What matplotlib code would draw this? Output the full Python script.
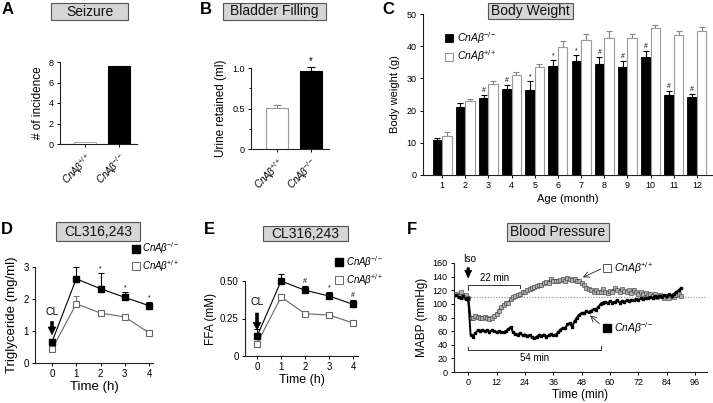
import matplotlib
matplotlib.use('Agg')
import matplotlib.pyplot as plt
from matplotlib.patches import Rectangle
from matplotlib.lines import Line2D
import numpy as np

plt.rcParams.update({
    'font.family': ['Liberation Sans', 'DejaVu Sans'],
    'mathtext.fontset': 'custom',
    'mathtext.rm': 'Liberation Sans',
    'mathtext.it': 'Liberation Sans:italic',
    'mathtext.bf': 'Liberation Sans:bold',
    'mathtext.default': 'it',
    'axes.linewidth': 0.8,
    'axes.edgecolor': '#222222',
    'xtick.major.width': 0.7, 'ytick.major.width': 0.7,
    'xtick.minor.width': 0.6, 'ytick.minor.width': 0.6,
    'xtick.major.size': 2.5, 'ytick.major.size': 2.5,
    'ytick.minor.size': 1.8,
    'xtick.major.pad': 2, 'ytick.major.pad': 2,
    'xtick.labelsize': 6.5, 'ytick.labelsize': 6.5,
})

KO = 'CnAβ$^{-/-}$'
WT = 'CnAβ$^{+/+}$'

# ---------------- data ----------------
seizure_groups = [WT, KO]
seizure_counts = [0.15, 7.6]

bladder_groups = [WT, KO]
bladder_urine = [0.51, 0.96]
bladder_err = [0.035, 0.05]
bladder_marks = ['', '*']

months = [1, 2, 3, 4, 5, 6, 7, 8, 9, 10, 11, 12]
bw_ko = [10.9, 21.1, 23.8, 26.7, 26.5, 33.8, 35.4, 34.6, 33.4, 36.6, 24.7, 24.3]
bw_ko_err = [0.5, 1.2, 1.0, 1.3, 2.6, 1.9, 1.8, 2.0, 2.0, 2.0, 1.4, 0.8]
bw_wt = [12.1, 23.0, 28.2, 31.2, 33.5, 39.6, 41.8, 42.7, 42.5, 45.6, 43.6, 44.6]
bw_wt_err = [1.1, 0.7, 1.0, 0.8, 0.9, 2.0, 2.1, 2.0, 1.3, 1.0, 1.2, 1.3]
bw_marks = ['', '', '#', '#', '*', '*', '*', '#', '#', '#', '#', '#']

time_h = [0, 1, 2, 3, 4]
tg_ko = [0.66, 2.63, 2.32, 2.05, 1.79]
tg_ko_err = [0.10, 0.37, 0.49, 0.16, 0.12]
tg_wt = [0.43, 1.85, 1.56, 1.44, 0.94]
tg_wt_err = [0.15, 0.25, 0.05, 0.07, 0.08]
tg_marks = ['', '', '*', '*', '*']

ffa_ko = [0.131, 0.50, 0.438, 0.40, 0.344]
ffa_ko_err = [0.05, 0.045, 0.03, 0.027, 0.03]
ffa_wt = [0.082, 0.393, 0.282, 0.273, 0.22]
ffa_wt_err = [0.012, 0.02, 0.012, 0.012, 0.012]
ffa_marks = ['', '', '#', '*', '#']

time_min = list(range(-5, 91))
mabp_wt = [115, 112, 117, 110, 113, 108,
           79, 80, 82, 81, 80, 79, 81, 79, 78, 79,
           82, 85, 90, 95, 98, 102, 101, 107, 110, 112,
           113, 114, 117, 118, 120, 122, 124, 125, 126, 128,
           127, 130, 132, 131, 136, 133, 134, 133, 135, 137,
           134, 138, 136, 135, 137, 133, 134, 131, 127, 124,
           122, 121, 118, 120, 117, 118, 122, 118, 116, 119,
           117, 123, 120, 118, 122, 119, 117, 120, 116, 121,
           118, 115, 117, 114, 116, 113, 115, 112, 114, 110,
           113, 111, 109, 112, 108, 111, 110, 113, 115, 112]
mabp_ko = [113, 110, 108, 111, 107, 109,
           55, 52, 57, 61, 60, 62, 60, 61, 59, 61,
           60, 58, 60, 59, 58, 60, 63, 66, 58, 56,
           55, 57, 54, 55, 53, 54, 51, 50, 52, 54,
           53, 55, 52, 54, 56, 54, 55, 58, 62, 65,
           64, 70, 72, 66, 75, 80, 84, 87, 86, 89,
           88, 90, 92, 91, 95, 100, 102, 103, 101, 104,
           102, 103, 105, 102, 104, 103, 105, 104, 106, 105,
           107, 106, 108, 107, 109, 108, 110, 109, 111, 110,
           112, 110, 113, 111, 114, 112, 115, 117, 120, 123]
mabp_baseline = 110

# ---------------- figure ----------------
W, H = 713, 403
fig = plt.figure(figsize=(W / 100, H / 100), dpi=100)


def px_axes(l, t, r, b):
    ax = fig.add_axes([l / W, 1 - b / H, (r - l) / W, (b - t) / H])
    ax.spines['top'].set_visible(False)
    ax.spines['right'].set_visible(False)
    return ax


def title_box(l, t, r, b, text):
    fig.patches.append(Rectangle((l / W, 1 - b / H), (r - l) / W, (b - t) / H,
                                 transform=fig.transFigure, fc='#d5d5d5',
                                 ec='#555555', lw=0.8))
    fig.text((l + r) / 2 / W, 1 - (t + b) / 2 / H, text, ha='center',
             va='center', fontsize=10, color='#111111')


def letter(x, y, s):
    fig.text(x / W, 1 - y / H, s, ha='center', va='center', fontsize=12,
             fontweight='bold')


def up_err(ax, x, y, e, color, cap=3.0):
    ax.errorbar(x, y, yerr=[np.zeros(len(e)), e], fmt='none', ecolor=color,
                elinewidth=0.8, capsize=cap, capthick=0.8, zorder=2,
                clip_on=False)


def marks(ax, x, top, labels, size=5.5, dy=0.5):
    for xi, ti, m in zip(x, top, labels):
        if m:
            ax.annotate(m, (xi, ti), xytext=(0, dy), textcoords='offset points',
                        ha='center', va='bottom', fontsize=size,
                        annotation_clip=False, zorder=6)


# ---- A: Seizure ----
ax = px_axes(60, 62, 137, 144)
xa = np.arange(len(seizure_groups))
ax.bar(xa, seizure_counts, width=0.64, color=['white', 'black'],
       edgecolor=['#aaaaaa', 'black'], linewidth=0.8, zorder=3)
ax.set_xlim(-0.72, 1.51)
ax.set_ylim(0, 8)
ax.set_yticks([0, 2, 4, 6, 8])
ax.set_xticks(xa)
ax.set_xticklabels(seizure_groups, rotation=45, ha='right',
                   rotation_mode='anchor', fontstyle='italic', fontsize=7)
ax.set_ylabel('# of incidence', fontsize=8.5, labelpad=3)
title_box(51, 3, 128, 20, 'Seizure')
letter(8, 10, 'A')

# ---- B: Bladder filling ----
ax = px_axes(251, 68, 329, 149)
xb = np.arange(len(bladder_groups))
ax.bar(xb, bladder_urine, width=0.66, color=['white', 'black'],
       edgecolor=['#999999', 'black'], linewidth=0.8, zorder=3)
up_err(ax, xb[:1], bladder_urine[:1], bladder_err[:1], '#888888')
up_err(ax, xb[1:], bladder_urine[1:], bladder_err[1:], 'black')
marks(ax, xb, np.add(bladder_urine, bladder_err), bladder_marks, size=7)
ax.set_xlim(-0.78, 1.55)
ax.set_ylim(0, 1.0)
ax.set_yticks([0, 0.5, 1.0])
ax.set_yticklabels(['0', '0.5', '1.0'])
ax.set_yticks([0.25, 0.75], minor=True)
ax.set_xticks(xb)
ax.set_xticklabels(bladder_groups, rotation=45, ha='right',
                   rotation_mode='anchor', fontstyle='italic', fontsize=7)
ax.set_ylabel('Urine retained (ml)', fontsize=8.5, labelpad=4)
title_box(223, 3, 326, 20, 'Bladder Filling')
letter(206, 10, 'B')

# ---- C: Body weight ----
ax = px_axes(423, 14, 712, 175)
m = np.array(months)
bk = ax.bar(m - 0.205, bw_ko, width=0.41, color='black', edgecolor='black',
            linewidth=0.6, zorder=3, label=KO)
bw = ax.bar(m + 0.205, bw_wt, width=0.41, color='white', edgecolor='#999999',
            linewidth=0.8, zorder=3, label=WT)
up_err(ax, m - 0.205, bw_ko, bw_ko_err, 'black', cap=2.5)
up_err(ax, m + 0.205, bw_wt, bw_wt_err, '#888888', cap=2.5)
marks(ax, m - 0.205, np.add(bw_ko, bw_ko_err), bw_marks, size=5)
ax.set_xlim(0.18, 12.65)
ax.set_ylim(0, 50)
ax.set_yticks([0, 10, 20, 30, 40, 50])
ax.set_xticks(m)
ax.set_xlabel('Age (month)', fontsize=8, labelpad=3)
ax.set_ylabel('Body weight (g)', fontsize=8, labelpad=5)
ax.legend(handles=[bk, bw], loc='upper left', bbox_to_anchor=(0.075, 0.9),
          frameon=False, prop=dict(size=7.5, style='italic'),
          handlelength=0.8, handleheight=0.8,
          handletextpad=0.4, borderaxespad=0, borderpad=0, labelspacing=0.25)
title_box(488, 3, 573, 19, 'Body Weight')
letter(388, 10, 'C')


def time_course(ax, ko, ko_err, wt, wt_err, mk):
    t = np.array(time_h)
    up_err(ax, t, wt, wt_err, '#777777', cap=2.5)
    up_err(ax, t, ko, ko_err, 'black', cap=2.5)
    ax.plot(t, wt, 's-', color='#666666', mfc='white', mec='#666666',
            ms=4, mew=0.8, lw=0.8, zorder=3, clip_on=False)
    ax.plot(t, ko, 's-', color='black', mfc='black', mec='black',
            ms=4, lw=0.8, zorder=4, clip_on=False)
    marks(ax, t, np.add(ko, ko_err), mk, size=5)


def small_legend(ax, anchor):
    hk = Line2D([], [], ls='none', marker='s', ms=6, color='black')
    hw = Line2D([], [], ls='none', marker='s', ms=6, mfc='white',
                mec='#666666', mew=0.7)
    ax.legend(handles=[hk, hw], labels=[KO, WT], loc='upper left',
              bbox_to_anchor=anchor, frameon=False,
              prop=dict(size=7, style='italic'),
              handlelength=0.8, handletextpad=0.3, borderaxespad=0,
              borderpad=0, labelspacing=0.2)


def cl_arrow(ax, tip, tail, text_y):
    ax.annotate('', xy=(0, tip), xytext=(0, tail),
                arrowprops=dict(arrowstyle='simple,head_width=0.55,head_length=0.55,tail_width=0.2',
                                fc='black', ec='black', lw=0.5),
                annotation_clip=False)
    ax.text(0, text_y, 'CL', ha='center', va='bottom', fontsize=7.5)


# ---- D: triglyceride ----
ax = px_axes(35, 267, 153, 363)
time_course(ax, tg_ko, tg_ko_err, tg_wt, tg_wt_err, tg_marks)
ax.set_xlim(-0.70, 4.16)
ax.set_ylim(0, 3)
ax.set_yticks([0, 1, 2, 3])
ax.set_xticks(time_h)
ax.tick_params(labelsize=7)
ax.set_xlabel('Time (h)', fontsize=9.5, labelpad=1)
ax.set_ylabel('Triglyceride (mg/ml)', fontsize=9.5, labelpad=4)
small_legend(ax, (0.82, 1.28))
cl_arrow(ax, 0.80, 1.38, 1.44)
title_box(56, 222, 140, 241, 'CL316,243')
letter(7, 230, 'D')

# ---- E: FFA ----
ax = px_axes(245, 281, 358, 356)
time_course(ax, ffa_ko, ffa_ko_err, ffa_wt, ffa_wt_err, ffa_marks)
ax.set_xlim(-0.5, 4.2)
ax.set_ylim(0, 0.5)
ax.set_yticks([0, 0.25, 0.5])
ax.set_yticklabels(['0', '0.25', '0.50'])
ax.set_xticks(time_h)
ax.tick_params(labelsize=7)
ax.set_xlabel('Time (h)', fontsize=9, labelpad=1)
ax.set_ylabel('FFA (mM)', fontsize=8.5, labelpad=2)
small_legend(ax, (0.80, 1.36))
cl_arrow(ax, 0.155, 0.305, 0.325)
title_box(263, 226, 348, 241, 'CL316,243')
letter(209, 230, 'E')

# ---- F: blood pressure ----
ax = px_axes(454, 263, 707, 372)
ax.axhline(mabp_baseline, ls=(0, (1, 1.5)), color='#888888', lw=0.8, zorder=1)
ax.plot(time_min, mabp_wt, '-s', color='#333333', lw=1.6, ms=2.2,
        mfc='#b0b0b0', mec='#333333', mew=0.4, zorder=3)
ax.plot(time_min, mabp_ko, '-s', color='black', lw=1.4, ms=2.0,
        mfc='black', mec='black', zorder=4)
ax.set_xlim(-6, 101)
ax.set_ylim(0, 160)
ax.set_yticks(range(0, 161, 20))
ax.set_xticks(range(0, 97, 12))
ax.set_xlabel('Time (min)', fontsize=8.5, labelpad=1)
ax.set_ylabel('MABP (mmHg)', fontsize=8.5, labelpad=3)
# Iso arrow
ax.annotate('', xy=(0, 134), xytext=(0, 157),
            arrowprops=dict(arrowstyle='simple,head_width=0.5,head_length=0.55,tail_width=0.18',
                            fc='black', ec='black', lw=0.5), annotation_clip=False)
ax.text(0.5, 159, 'Iso', ha='center', va='bottom', fontsize=7)
# 22 min bracket
ax.plot([0, 0, 22, 22], [120, 128, 128, 123], color='#333333', lw=0.7)
ax.text(11, 131, '22 min', ha='center', va='bottom', fontsize=7)
# 54 min bracket
ax.plot([0, 0, 56, 56], [37, 33, 33, 38], color='#333333', lw=0.7)
ax.text(28, 28, '54 min', ha='center', va='top', fontsize=7)
# labels with square keys
ax.annotate('', xy=(48.5, 139), xytext=(56, 151),
            arrowprops=dict(arrowstyle='->', lw=0.6, color='#222222',
                            shrinkA=0, shrinkB=0))
ax.plot([58.5], [152], 's', ms=5.5, mfc='white', mec='#555555', mew=0.7,
        clip_on=False)
ax.text(61.8, 152, WT, ha='left', va='center', fontsize=7.5, fontstyle='italic')
ax.annotate('', xy=(51.5, 83), xytext=(55.5, 71),
            arrowprops=dict(arrowstyle='->', lw=0.6, color='#222222',
                            shrinkA=0, shrinkB=0))
ax.plot([58.5], [65], 's', ms=5.5, color='black', clip_on=False)
ax.text(61.8, 65, KO, ha='left', va='center', fontsize=7.5, fontstyle='italic')
title_box(507, 223, 609, 241, 'Blood Pressure')
letter(412, 230, 'F')

fig.savefig('out.png', dpi=100)
